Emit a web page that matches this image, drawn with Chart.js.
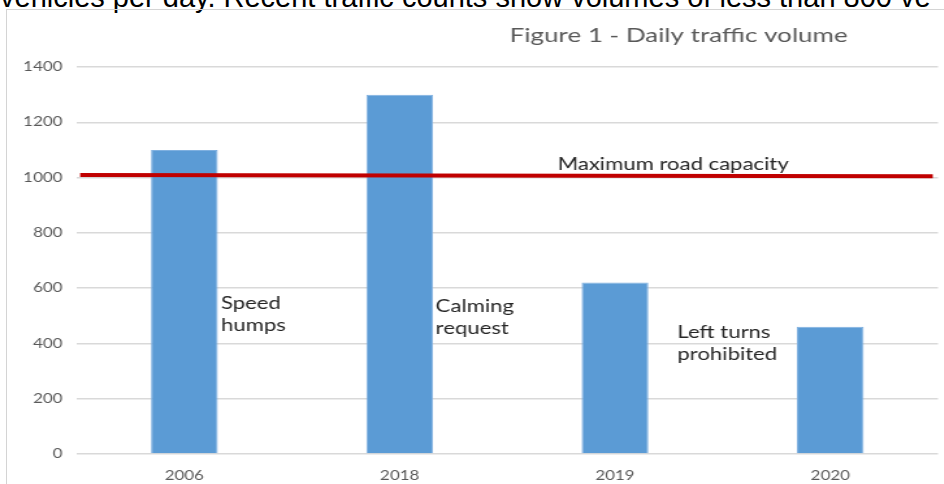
<!DOCTYPE html>
<html>
<head>
<meta charset="utf-8">
<script src="https://cdn.jsdelivr.net/npm/chart.js@4.4.1/dist/chart.umd.min.js"></script>
<style>
  html, body { margin: 0; padding: 0; background: #fff; overflow: hidden; }
  body { width: 944px; height: 484px; position: relative; }
  #bodytext {
    position: absolute; left: 0; top: -17.5px; white-space: nowrap;
    font: 29px "Liberation Sans", Arial, sans-serif; line-height: 29px; color: #000;
  }
  #frame {
    position: absolute; left: 6px; top: 9px; width: 1000px; height: 600px;
    border: 1px solid #d4d4d4;
  }
  /* the original chart image is stretched sideways, so draw narrow and widen it */
  #wrap {
    position: absolute; left: 0; top: 0; width: 726px; height: 484px;
    transform: scaleX(1.3); transform-origin: 0 0;
  }
</style>
</head>
<body>
<div id="bodytext">vehicles per day. Recent traffic counts show volumes of less than 800 ve</div>
<div id="frame"></div>
<div id="wrap"><canvas id="chart"></canvas></div>
<script>
// data
const years = ["2006", "2018", "2019", "2020"];
const volumes = [1100, 1300, 620, 460];
const capacityY = [1009, 1005];      // red line, left end / right end
const capacityX = [0.004, 0.994];    // along the plot width (0..1)
const yTicks = [0, 200, 400, 600, 800, 1000, 1200, 1400];

// notes drawn in data space: category index (+offset) and value
const notes = [
  { lines: ["Maximum road capacity"], x: 2.27, y: 1049 },
  { lines: ["Speed", "humps"], x: 0.17, y: 543, left: true },
  { lines: ["Calming", "request"], x: 1.167, y: 535, left: true },
  { lines: ["Left turns", "prohibited"], x: 2.29, y: 441, left: true }
];

const notesPlugin = {
  id: "notes",
  afterDatasetsDraw(chart) {
    const ctx = chart.ctx;
    const xs = chart.scales.x, ys = chart.scales.y;
    ctx.save();

    // title
    ctx.fillStyle = "#595959";
    ctx.font = "20px Lato";
    ctx.textAlign = "center";
    ctx.textBaseline = "middle";
    ctx.fillText("Figure 1 - Daily traffic volume", 522, 36);

    ctx.fillStyle = "#262626";
    ctx.font = "17px Lato";
    const step = xs.getPixelForValue(1) - xs.getPixelForValue(0);
    const lh = ys.getPixelForValue(0) - ys.getPixelForValue(80);
    notes.forEach(n => {
      const i = Math.floor(n.x);
      const px = xs.getPixelForValue(i) + (n.x - i) * step;
      const py = ys.getPixelForValue(n.y);
      ctx.textAlign = n.left ? "left" : "center";
      n.lines.forEach((t, k) => ctx.fillText(t, px, py + k * lh));
    });
    ctx.restore();
  }
};

new Chart(document.getElementById("chart"), {
  data: {
    labels: years,
    datasets: [
      {
        type: "bar",
        data: volumes,
        backgroundColor: "#5b9bd5",
        borderColor: "#7fb0e0",
        borderWidth: 1,
        grouped: false,
        barPercentage: 0.31,
        categoryPercentage: 1,
        order: 1
      },
      {
        type: "line",
        xAxisID: "x2",
        data: capacityX.map((x, i) => ({ x: x, y: capacityY[i] })),
        borderColor: "#c00000",
        borderWidth: 4,
        pointRadius: 0,
        order: 0
      }
    ]
  },
  options: {
    responsive: true,
    maintainAspectRatio: false,
    animation: false,
    layout: { padding: { top: 67, right: 4.5, bottom: 0, left: 0 } },
    plugins: { legend: { display: false }, tooltip: { enabled: false } },
    scales: {
      x: {
        grid: { display: false },
        border: { display: false },
        ticks: { color: "#595959", font: { family: "Lato", size: 13 }, padding: 6 },
        afterFit(s) { s.height = 30; }
      },
      x2: {
        type: "linear", display: false, min: 0, max: 1
      },
      y: {
        min: 0, max: 1400,
        afterBuildTicks(s) { s.ticks = yTicks.map(v => ({ value: v })); },
        grid: { color: "#d9d9d9", lineWidth: 1.5, drawTicks: false },
        border: { display: false },
        ticks: {
          color: "#595959", font: { family: "Lato", size: 13 }, padding: 11,
          callback: v => String(v)
        },
        afterFit(s) { s.width = 59; }
      }
    }
  },
  plugins: [notesPlugin]
});
</script>
</body>
</html>
